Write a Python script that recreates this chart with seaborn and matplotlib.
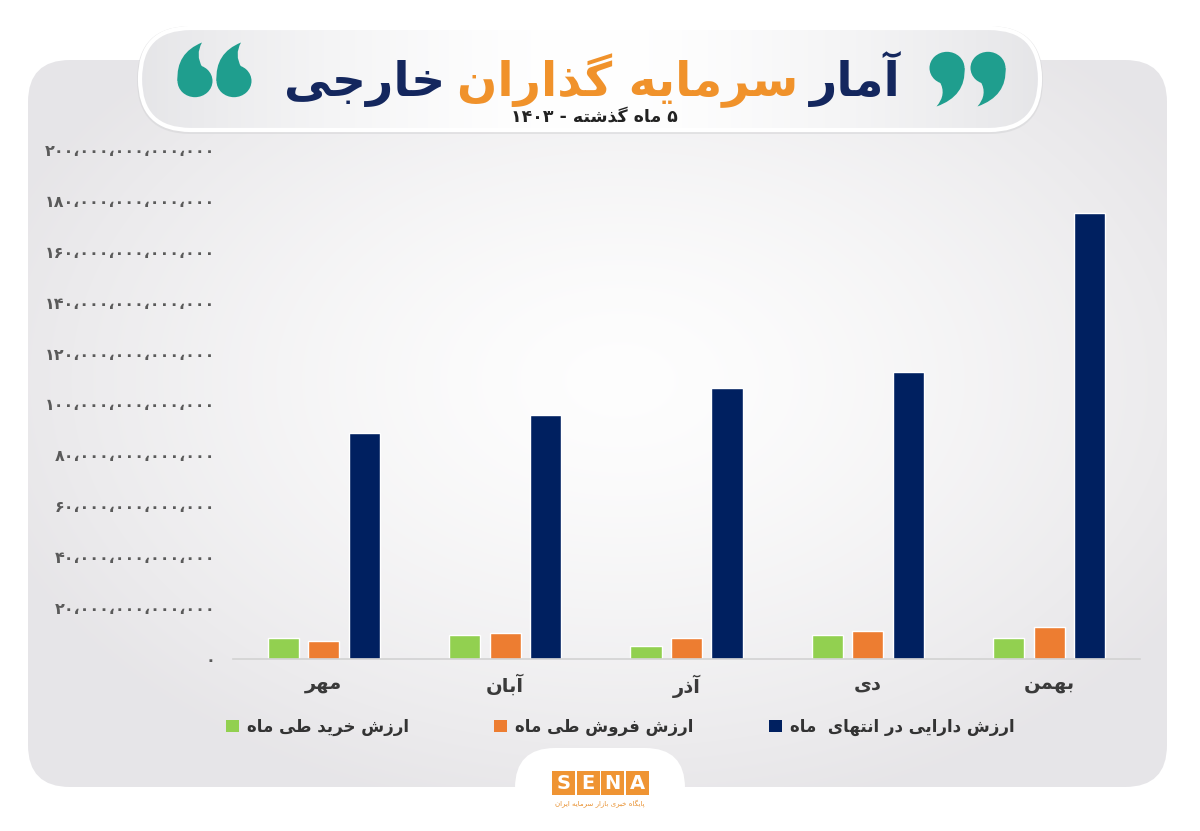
import re
import numpy as np
import pandas as pd
import matplotlib
matplotlib.use("Agg")
import matplotlib.pyplot as plt
import seaborn as sns
from matplotlib.patches import FancyBboxPatch, Patch, Rectangle, Ellipse, PathPatch
from matplotlib.path import Path
from matplotlib.ticker import FuncFormatter, FixedLocator

# ---------------- data (values in trillion rials) ----------------
months = ["مهر", "آبان", "آذر", "دی", "بهمن"]
buy_value = [8.4, 9.5, 5.1, 9.5, 8.4]
sell_value = [7.1, 10.1, 8.4, 11.1, 12.4]
asset_value = [88.7, 96.0, 106.4, 112.7, 175.4]
series_labels = ["ارزش خرید طی ماه", "ارزش فروش طی ماه", "ارزش دارایی در انتهای  ماه"]
series_colors = ["#92d050", "#ed7d31", "#002060"]
y_ticks = [0, 20, 40, 60, 80, 100, 120, 140, 160, 180, 200]
title_parts = ["آمار", "سرمایه گذاران", "خارجی"]
title_colors = ["#14275e", "#f0922b", "#14275e"]
subtitle = "۵ ماه گذشته - ۱۴۰۳"
logo_letters = ["S", "E", "N", "A"]
logo_caption = "پایگاه خبری بازار سرمایه ایران"

# ---------------- simple Persian shaping ----------------
FORMS = {
    'ا': ('\uFE8D', '\uFE8E', None, None),
    'آ': ('\uFE81', '\uFE82', None, None),
    'ب': ('\uFE8F', '\uFE90', '\uFE91', '\uFE92'),
    'پ': ('\uFB56', '\uFB57', '\uFB58', '\uFB59'),
    'ت': ('\uFE95', '\uFE96', '\uFE97', '\uFE98'),
    'ج': ('\uFE9D', '\uFE9E', '\uFE9F', '\uFEA0'),
    'خ': ('\uFEA5', '\uFEA6', '\uFEA7', '\uFEA8'),
    'د': ('\uFEA9', '\uFEAA', None, None),
    'ذ': ('\uFEAB', '\uFEAC', None, None),
    'ر': ('\uFEAD', '\uFEAE', None, None),
    'ز': ('\uFEAF', '\uFEB0', None, None),
    'س': ('\uFEB1', '\uFEB2', '\uFEB3', '\uFEB4'),
    'ش': ('\uFEB5', '\uFEB6', '\uFEB7', '\uFEB8'),
    'ط': ('\uFEC1', '\uFEC2', '\uFEC3', '\uFEC4'),
    'ف': ('\uFED1', '\uFED2', '\uFED3', '\uFED4'),
    'گ': ('\uFB92', '\uFB93', '\uFB94', '\uFB95'),
    'م': ('\uFEE1', '\uFEE2', '\uFEE3', '\uFEE4'),
    'ن': ('\uFEE5', '\uFEE6', '\uFEE7', '\uFEE8'),
    'ه': ('\uFEE9', '\uFEEA', '\uFEEB', '\uFEEC'),
    'و': ('\uFEED', '\uFEEE', None, None),
    'ی': ('\uFBFC', '\uFBFD', '\uFBFE', '\uFBFF'),
}


def shape(s):
    out = []
    n = len(s)
    for i, c in enumerate(s):
        f = FORMS.get(c)
        if f is None:
            out.append(c)
            continue
        prev = s[i - 1] if i > 0 else ''
        nxt = s[i + 1] if i < n - 1 else ''
        jp = prev in FORMS and FORMS[prev][2] is not None
        jn = f[2] is not None and nxt in FORMS
        if jp and jn:
            out.append(f[3])
        elif jp:
            out.append(f[1])
        elif jn:
            out.append(f[2])
        else:
            out.append(f[0])
    vis = ''.join(out)[::-1]
    vis = re.sub(r'[0-9\u06F0-\u06F9]+', lambda m: m.group(0)[::-1], vis)
    return vis


FA_DIGITS = str.maketrans("0123456789", "۰۱۲۳۴۵۶۷۸۹")


def fa_number(v, pos=None):
    n = int(round(v * 1e12))
    return f"{n:,}".replace(",", "،").translate(FA_DIGITS)


# ---------------- figure ----------------
sns.set_theme(style="white")
plt.rcParams["font.family"] = ["DejaVu Sans"]

W, H = 1200, 831
fig = plt.figure(figsize=(W / 100, H / 100), dpi=100)
fig.patch.set_facecolor("white")

bg = fig.add_axes([0, 0, 1, 1], zorder=-10)
bg.set_axis_off()

# card background with radial gradient
yy, xx = np.mgrid[0:H, 0:W]
r = np.sqrt(((xx - 620) / 660.0) ** 2 + ((yy - 380) / 440.0) ** 2)
t = np.clip(r, 0, 1) ** 1.4
c0 = np.array([0.995, 0.995, 0.995])
c1 = np.array([0.905, 0.900, 0.910])
img = c0 + (c1 - c0) * t[..., None]
im = bg.imshow(img, extent=(0, W, H, 0), zorder=1, interpolation="bilinear")
card = FancyBboxPatch((28, 60), 1139, 727, boxstyle="round,pad=0,rounding_size=42",
                      facecolor="none", edgecolor="none", transform=bg.transData)
bg.add_patch(card)
im.set_clip_path(card)

# title pill
shadow = FancyBboxPatch((137, 26), 906, 108, boxstyle="round,pad=0,rounding_size=54",
                        facecolor="#d6d6d8", edgecolor="none", alpha=0.6, zorder=2,
                        transform=bg.transData)
bg.add_patch(shadow)
gx = np.abs(np.linspace(0, W, W) - 590) / 450.0
gt = np.clip(gx, 0, 1) ** 1.6
pill_row = np.array([1.0, 1.0, 1.0]) + (np.array([0.90, 0.90, 0.91]) - 1.0) * gt[:, None]
pill_img = np.repeat(pill_row[None, :, :], 2, axis=0)
pim = bg.imshow(pill_img, extent=(0, W, 130, 28), zorder=3, interpolation="bilinear")
pill = FancyBboxPatch((140, 28), 900, 102, boxstyle="round,pad=0,rounding_size=51",
                      facecolor="none", edgecolor="white", linewidth=3, zorder=4,
                      transform=bg.transData)
bg.add_patch(pill)
pim.set_clip_path(pill)

# logo tab
tab = FancyBboxPatch((515, 748), 170, 140, boxstyle="round,pad=0,rounding_size=40",
                     facecolor="white", edgecolor="none", zorder=5, transform=bg.transData)
bg.add_patch(tab)

bg.set_xlim(0, W)
bg.set_ylim(H, 0)
bg.set_aspect("auto")


# quote marks drawn as filled comma shapes
def quote_mark(cx, cy, R, flip, tip_dx, color="#1f9e8e"):
    s = -1 if flip else 1
    def p(dx, dy):
        return (cx + s * dx * R, cy + s * dy * R)
    verts = [p(-1.0, 0.0), p(-1.1, -1.6), p(tip_dx, -2.2),
             p(0.0, -1.5), p(0.42, -0.78), p(0.0, 0.0), p(-1.0, 0.0)]
    codes = [Path.MOVETO, Path.CURVE3, Path.CURVE3, Path.CURVE3, Path.CURVE3,
             Path.LINETO, Path.CLOSEPOLY]
    bg.add_patch(PathPatch(Path(verts, codes), facecolor=color, edgecolor="none",
                           zorder=6, transform=bg.transData))
    bg.add_patch(Ellipse((cx, cy), 2 * R, 1.85 * R, facecolor=color, edgecolor="none",
                         zorder=6, transform=bg.transData))


for cx in (195, 234):
    quote_mark(cx, 81, 17.5, False, 0.4)
for cx in (947, 988):
    quote_mark(cx, 68, 17.5, True, 0.6)

# title (right-to-left order of parts)
fig.canvas.draw()
renderer = fig.canvas.get_renderer()
title_size = 40
space_w = 14
texts = []
for part, col in zip(title_parts, title_colors):
    tx = bg.text(0, 96, shape(part), color=col, fontsize=title_size, fontweight="bold",
                 ha="left", va="baseline", zorder=6)
    texts.append(tx)
widths = [tx.get_window_extent(renderer).width for tx in texts]
total = sum(widths) + space_w * (len(widths) - 1)
target = 617.0
scale = target / total
for tx in texts:
    tx.set_fontsize(title_size * scale)
widths = [w * scale for w in widths]
sw = space_w * scale
x_right = 592 + target / 2
for tx, w in zip(texts, widths):
    tx.set_x(x_right - w)
    x_right -= w + sw

bg.text(594, 117, shape(subtitle), color="#222222", fontsize=12.5, fontweight="bold",
        ha="center", va="center", zorder=6)

# SENA logo
for i, letter in enumerate(logo_letters):
    x0 = 552 + i * 24.5
    bg.add_patch(Rectangle((x0, 771), 23, 24, facecolor="#ef9433", edgecolor="none",
                           zorder=6, transform=bg.transData))
    bg.text(x0 + 11.5, 783.5, letter, color="white", fontsize=14, fontweight="bold",
            ha="center", va="center", zorder=7)
bg.text(600, 804, shape(logo_caption), color="#e8902f", fontsize=5, ha="center",
        va="center", zorder=7)

# ---------------- bar chart ----------------
df = pd.DataFrame({
    "month": months * 3,
    "series": sum([[s] * len(months) for s in series_labels], []),
    "value": buy_value + sell_value + asset_value,
})

ax = fig.add_axes([233 / W, 1 - 659 / H, (1140 - 233) / W, (659 - 150) / H], zorder=1)
ax.patch.set_alpha(0)
sns.barplot(data=df, x="month", y="value", hue="series", hue_order=series_labels,
            order=months, palette=series_colors, saturation=1, width=0.67, gap=0.23,
            legend=False, ax=ax)

ax.set_xlim(-0.5, len(months) - 0.5)
ax.set_ylim(0, 200)
ax.yaxis.set_major_locator(FixedLocator(y_ticks))
ax.yaxis.set_major_formatter(FuncFormatter(fa_number))
ax.set_xticks(range(len(months)))
ax.set_xticklabels([shape(m) for m in months])
ax.set_xlabel("")
ax.set_ylabel("")
ax.tick_params(axis="y", length=0, pad=13, labelsize=11.5, labelcolor="#5a5a5a")
ax.tick_params(axis="x", length=0, pad=11, labelsize=14, labelcolor="#3a3a3a")
for lab in ax.get_yticklabels() + ax.get_xticklabels():
    lab.set_fontweight("bold")
for side in ["top", "right", "left"]:
    ax.spines[side].set_visible(False)
ax.spines["bottom"].set_color("#d2d2d2")
ax.spines["bottom"].set_linewidth(1.2)
ax.grid(False)

# legends (one per series, placed like the reference)
legend_x = [226, 494, 769]
for lab, col, lx in zip(series_labels, series_colors, legend_x):
    leg = fig.legend(handles=[Patch(facecolor=col, edgecolor="none")], labels=[shape(lab)],
                     loc="center left", bbox_to_anchor=(lx / W, 1 - 727 / H),
                     frameon=False, handlelength=0.75, handleheight=0.75,
                     handletextpad=0.5, borderaxespad=0, borderpad=0,
                     prop={"size": 12, "weight": "bold"})
    for txt in leg.get_texts():
        txt.set_color("#333333")

fig.savefig("out.png", dpi=100, facecolor="white")
